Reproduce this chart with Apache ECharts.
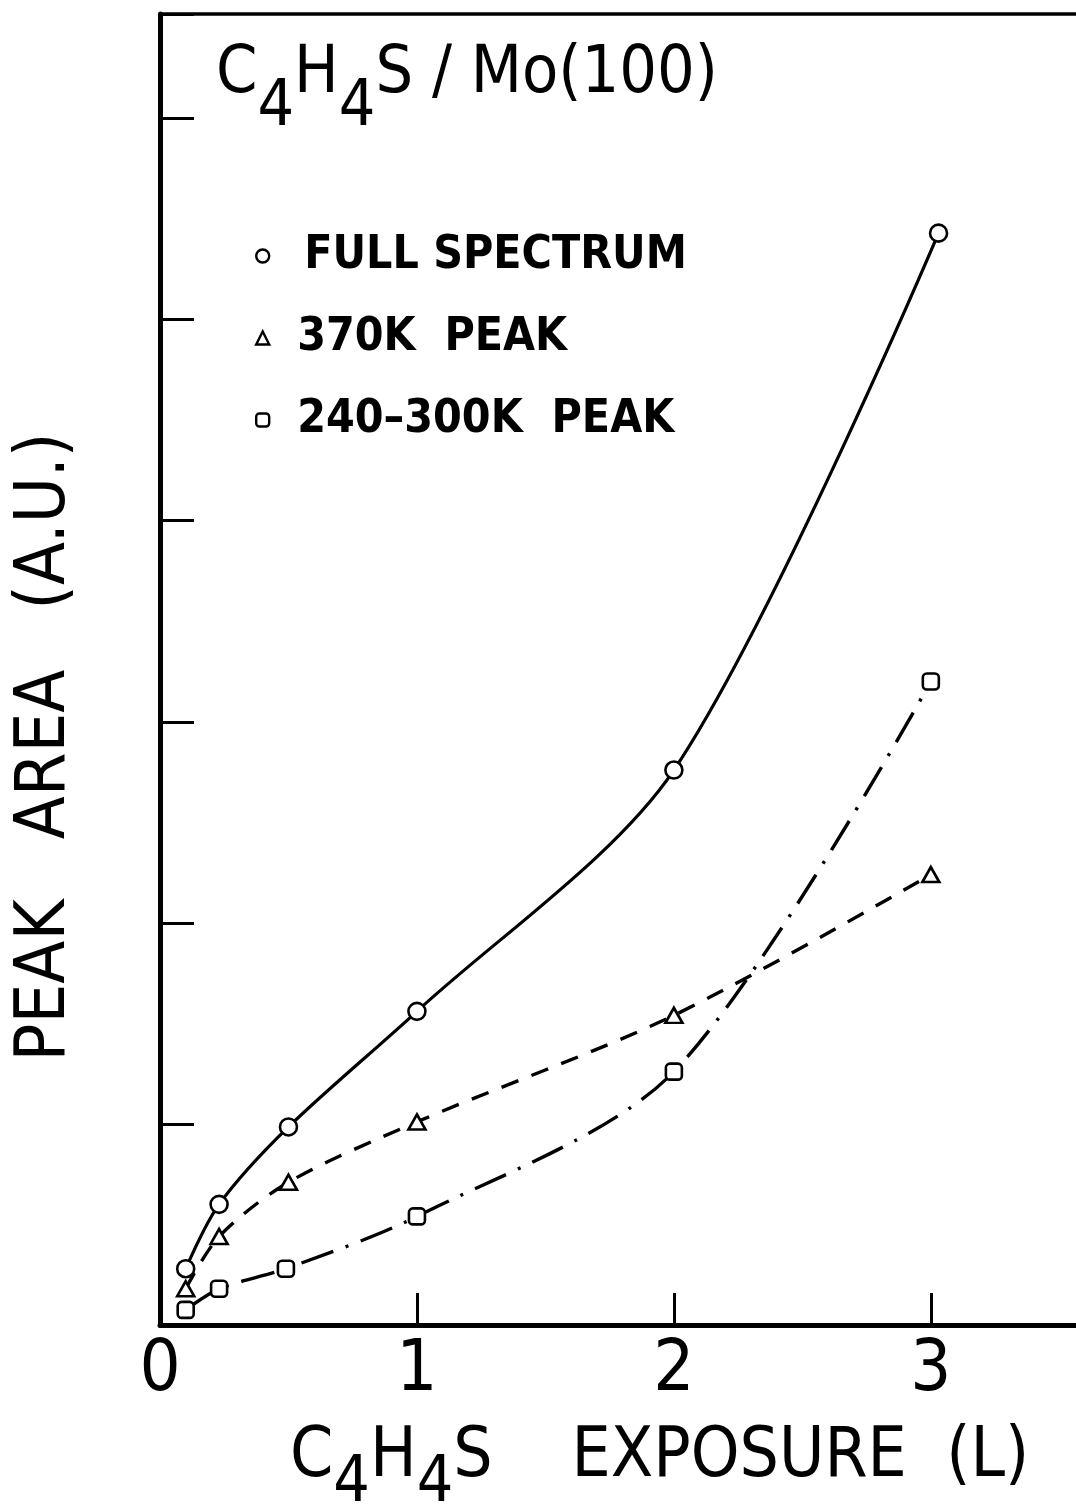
<!DOCTYPE html>
<html>
<head>
<meta charset="utf-8">
<script src="https://cdn.jsdelivr.net/npm/echarts@6/dist/echarts.min.js"></script>
<style>
  html, body { margin: 0; padding: 0; background: #fff; }
  #chart { width: 1076px; height: 1511px; }
</style>
</head>
<body>
<div id="chart"></div>
<script>
// Thiophene (C4H4S) TPD peak areas on Mo(100) versus exposure in Langmuir
const seriesNames = ['FULL SPECTRUM', '370K  PEAK', '240\u2013300K  PEAK'];

const fullX = [0.1, 0.23, 0.5, 1.0, 2.0, 3.03];
const fullY = [0.28, 0.60, 0.985, 1.56, 2.76, 5.43];

const peak370X = [0.1, 0.23, 0.5, 1.0, 2.0, 3.0];
const peak370Y = [0.18, 0.44, 0.71, 1.01, 1.54, 2.24];

const peak240X = [0.1, 0.23, 0.49, 1.0, 2.0, 3.0];
const peak240Y = [0.075, 0.18, 0.28, 0.54, 1.26, 3.20];

const xTicks = [0, 1, 2, 3];

const FONT = "'DejaVu Sans Condensed', 'DejaVu Sans', sans-serif";

function pairs(xs, ys) {
  return xs.map((x, i) => [x, ys[i]]);
}

const markerStyle = { color: '#fff', borderColor: '#000', borderWidth: 2.6 };

const chart = echarts.init(document.getElementById('chart'), null, { renderer: 'canvas' });

chart.setOption({
  backgroundColor: '#fff',
  animation: false,
  grid: {
    left: 160, top: 14, right: -9, bottom: 186,
    outerBoundsMode: 'none', containLabel: false
  },
  xAxis: [
    {
      type: 'value', min: 0, max: 3.6, interval: 1,
      axisLine: { show: true, onZero: false, lineStyle: { color: '#000', width: 5 } },
      axisTick: { show: true, inside: true, length: 32, lineStyle: { color: '#000', width: 3 } },
      splitLine: { show: false },
      axisLabel: {
        margin: 10,
        color: '#000', fontFamily: FONT, fontSize: 72,
        formatter: v => (xTicks.indexOf(v) >= 0 ? String(v) : '')
      }
    },
    {
      // upper frame edge
      type: 'value', position: 'top', min: 0, max: 3.6,
      axisLine: { show: true, onZero: false, lineStyle: { color: '#000', width: 3.5 } },
      axisTick: { show: false }, axisLabel: { show: false }, splitLine: { show: false }
    }
  ],
  yAxis: {
    type: 'value', min: 0, max: 6.52, interval: 1,
    axisLine: { show: true, onZero: false, lineStyle: { color: '#000', width: 5 } },
    axisTick: { show: true, inside: true, length: 34, lineStyle: { color: '#000', width: 3 } },
    splitLine: { show: false },
    axisLabel: { show: false }
  },
  legend: {
    orient: 'vertical', left: 250, top: 228,
    itemGap: 36, itemWidth: 13, itemHeight: 13,
    selectedMode: false,
    itemStyle: { color: '#fff', borderColor: '#000', borderWidth: 2.4 },
    textStyle: { color: '#000', fontFamily: FONT, fontWeight: 'bold', fontSize: 46, padding: [0, 0, 0, 23] },
    data: [
      { name: seriesNames[0], icon: 'circle', textStyle: { padding: [0, 0, 0, 30] } },
      { name: seriesNames[1], icon: 'triangle' },
      { name: seriesNames[2], icon: 'roundRect' }
    ]
  },
  series: [
    {
      name: seriesNames[0], type: 'line', smooth: 0.3,
      data: pairs(fullX, fullY),
      symbol: 'circle', symbolSize: 17,
      itemStyle: markerStyle,
      lineStyle: { color: '#000', width: 3.2, type: 'solid' },
      z: 3
    },
    {
      name: seriesNames[1], type: 'line', smooth: 0.3,
      data: pairs(peak370X, peak370Y),
      symbol: 'triangle', symbolSize: [17, 15],
      itemStyle: markerStyle,
      lineStyle: { color: '#000', width: 3.4, type: [18, 14] },
      z: 3
    },
    {
      name: seriesNames[2], type: 'line', smooth: 0.3,
      data: pairs(peak240X, peak240Y),
      symbol: 'roundRect', symbolSize: 16,
      itemStyle: markerStyle,
      lineStyle: { color: '#000', width: 3.4, type: [34, 13, 3, 13] },
      z: 3
    }
  ],
  graphic: [
    {
      type: 'text', x: 216, y: 42, z: 10,
      style: {
        text: '{m|C}{s|4}{m|H}{s|4}{m|S / Mo(100)}',
        textAlign: 'left', textVerticalAlign: 'top',
        fill: '#000',
        rich: {
          m: { fontFamily: FONT, fontSize: 66, lineHeight: 66, verticalAlign: 'top', color: '#000' },
          s: { fontFamily: FONT, fontSize: 64, lineHeight: 64, padding: [34, 0, 0, 0], verticalAlign: 'top', color: '#000' }
        }
      }
    },
    {
      type: 'text', x: 290, y: 1424, z: 10,
      style: {
        text: '{m|C}{s|4}{m|H}{s|4}{m|S    EXPOSURE  (L)}',
        textAlign: 'left', textVerticalAlign: 'top',
        fill: '#000',
        rich: {
          m: { fontFamily: FONT, fontSize: 69, lineHeight: 69, verticalAlign: 'top', color: '#000' },
          s: { fontFamily: FONT, fontSize: 64, lineHeight: 64, padding: [28, 0, 0, 0], verticalAlign: 'top', color: '#000' }
        }
      }
    },
    {
      type: 'text', x: 46, y: 747, rotation: Math.PI / 2, z: 10,
      style: {
        text: 'PEAK   AREA   (A.U.)',
        textAlign: 'center', textVerticalAlign: 'middle',
        fill: '#000', fontFamily: FONT, fontSize: 70
      }
    }
  ]
});
</script>
</body>
</html>
